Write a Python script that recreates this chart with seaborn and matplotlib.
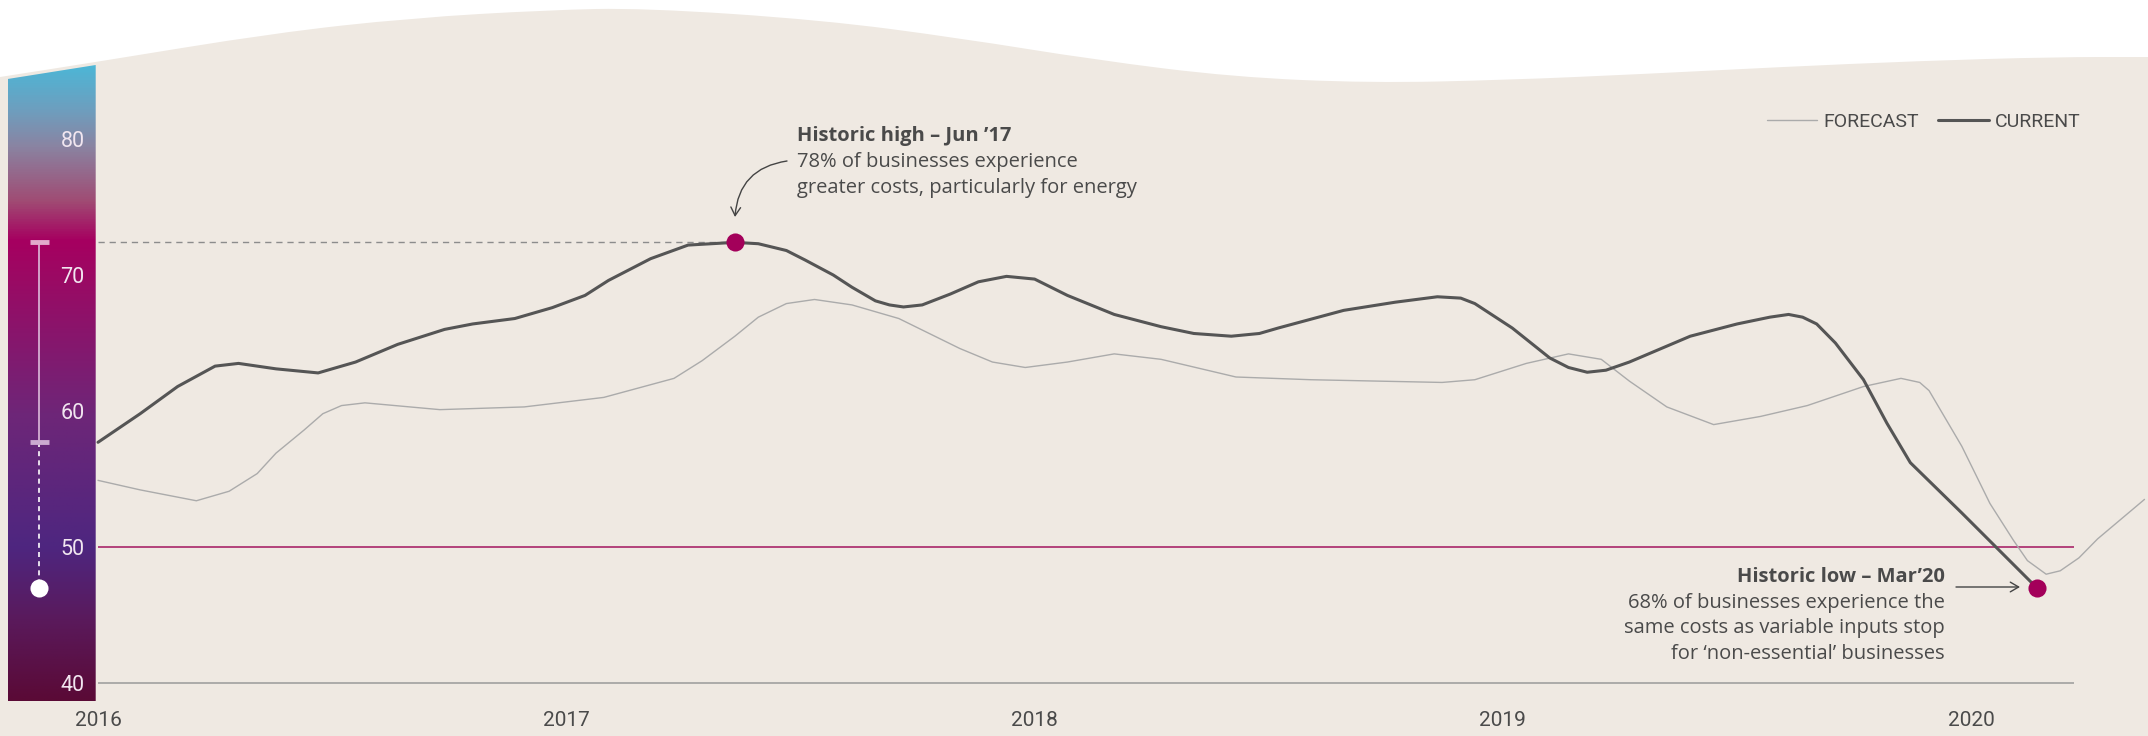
import matplotlib
matplotlib.use("Agg")
import numpy as np
import pandas as pd
import seaborn as sns
import matplotlib.pyplot as plt
from matplotlib import transforms as mtransforms
from matplotlib.path import Path
from matplotlib.patches import PathPatch, Polygon, FancyArrowPatch
from matplotlib.colors import LinearSegmentedColormap
from matplotlib.lines import Line2D

# ---------------- data ----------------
current_x = [2016.00, 2016.09, 2016.17, 2016.25, 2016.30, 2016.38, 2016.47, 2016.55,
             2016.64, 2016.74, 2016.80, 2016.89, 2016.97, 2017.04, 2017.09, 2017.18,
             2017.26, 2017.31, 2017.36, 2017.41, 2017.47, 2017.51, 2017.57, 2017.61,
             2017.66, 2017.69, 2017.72, 2017.76, 2017.82, 2017.88, 2017.94, 2018.00,
             2018.07, 2018.17, 2018.27, 2018.34, 2018.42, 2018.48, 2018.52, 2018.66,
             2018.77, 2018.86, 2018.91, 2018.94, 2019.02, 2019.10, 2019.14, 2019.18,
             2019.22, 2019.27, 2019.40, 2019.50, 2019.57, 2019.61, 2019.64, 2019.67,
             2019.71, 2019.77, 2019.82, 2019.87, 2019.98, 2020.14]
current_y = [57.7, 59.8, 61.8, 63.3, 63.5, 63.1, 62.8, 63.6,
             64.9, 66.0, 66.4, 66.8, 67.6, 68.5, 69.6, 71.2,
             72.2, 72.3, 72.4, 72.3, 71.8, 71.1, 70.0, 69.1,
             68.1, 67.8, 67.65, 67.8, 68.6, 69.5, 69.9, 69.7,
             68.5, 67.1, 66.2, 65.7, 65.5, 65.7, 66.1, 67.4,
             68.0, 68.4, 68.3, 67.9, 66.1, 63.9, 63.2, 62.85,
             63.0, 63.6, 65.5, 66.4, 66.9, 67.1, 66.9, 66.4,
             65.0, 62.3, 59.1, 56.2, 52.5, 47.0]

forecast_x = [2016.00, 2016.09, 2016.21, 2016.28, 2016.34, 2016.38, 2016.44, 2016.48,
              2016.52, 2016.57, 2016.73, 2016.91, 2017.08, 2017.23, 2017.29, 2017.36,
              2017.41, 2017.47, 2017.53, 2017.61, 2017.71, 2017.84, 2017.91, 2017.98,
              2018.07, 2018.17, 2018.27, 2018.43, 2018.59, 2018.87, 2018.94, 2019.05,
              2019.14, 2019.21, 2019.27, 2019.35, 2019.45, 2019.55, 2019.65, 2019.77,
              2019.85, 2019.89, 2019.91, 2019.98, 2020.04, 2020.09, 2020.12, 2020.16,
              2020.19, 2020.23, 2020.27, 2020.37]
forecast_y = [54.9, 54.2, 53.4, 54.1, 55.4, 56.9, 58.6, 59.8,
              60.4, 60.6, 60.1, 60.3, 61.0, 62.4, 63.7, 65.5,
              66.9, 67.9, 68.2, 67.8, 66.8, 64.6, 63.6, 63.2,
              63.6, 64.2, 63.8, 62.5, 62.3, 62.1, 62.3, 63.5,
              64.2, 63.8, 62.2, 60.3, 59.0, 59.6, 60.4, 61.8,
              62.4, 62.1, 61.5, 57.4, 53.2, 50.5, 49.0, 48.0,
              48.25, 49.2, 50.6, 53.5]

year_ticks = [2016, 2017, 2018, 2019, 2020]
year_labels = ["2016", "2017", "2018", "2019", "2020"]
value_ticks = [40, 50, 60, 70, 80]
value_labels = ["40", "50", "60", "70", "80"]

threshold = 50
floor_value = 40
line_end_x = 2020.22
high_x, high_y = 2017.36, 72.4
low_x, low_y = 2020.14, 47.0

series_names = ["FORECAST", "CURRENT"]
high_title = "Historic high \u2013 Jun \u201917"
high_lines = ["78% of businesses experience",
              "greater costs, particularly for energy"]
low_title = "Historic low \u2013 Mar\u201920"
low_lines = ["68% of businesses experience the",
             "same costs as variable inputs stop",
             "for \u2018non-essential\u2019 businesses"]

# ---------------- style ----------------
sns.set_theme(style="white")
plt.rcParams["font.family"] = ["Roboto", "DejaVu Sans"]
ANN_FONT = ["Open Sans", "DejaVu Sans"]

W, H = 2148, 736
BEIGE = "#EFE9E2"
DARK = "#555555"
LIGHT = "#ABABAB"
TEXT = "#4A4A4A"
MAGENTA = "#A3005A"

fig = plt.figure(figsize=(W / 100, H / 100), dpi=100, facecolor="white")
pix = mtransforms.Affine2D().scale(1 / W, -1 / H).translate(0, 1) + fig.transFigure

# beige wavy background (decoration)
bpts = np.array([(0, 77), (96, 62), (274, 33), (411, 18), (548, 10), (644, 8),
                 (822, 20), (959, 38), (1096, 60), (1233, 77), (1370, 83),
                 (1507, 80), (1644, 74), (1781, 67), (1918, 61), (2055, 57), (2148, 57)],
                dtype=float)
verts = [tuple(bpts[0]), tuple((bpts[0] + bpts[1]) / 2)]
codes = [Path.MOVETO, Path.LINETO]
for i in range(1, len(bpts) - 1):
    verts += [tuple(bpts[i]), tuple((bpts[i] + bpts[i + 1]) / 2)]
    codes += [Path.CURVE3, Path.CURVE3]
verts += [tuple(bpts[-1]), (W, H), (0, H), (0, 77)]
codes += [Path.LINETO, Path.LINETO, Path.LINETO, Path.CLOSEPOLY]
fig.patches.append(PathPatch(Path(verts, codes), transform=pix, facecolor=BEIGE,
                             edgecolor="none", zorder=0))

# gradient bar (decoration)
bar_ax = fig.add_axes([7.7 / W, 1 - 701 / H, 88 / W, (701 - 65) / H], zorder=1)
stops = [(0.0, "#5A0A36"), (0.127, "#5A1A5C"), (0.242, "#4E2680"), (0.451, "#6E2678"),
         (0.662, "#9A0A64"), (0.725, "#A60060"), (0.788, "#A04C74"), (0.874, "#8A84A2"),
         (0.93, "#6E9EBE"), (1.0, "#4DB6D6")]
cmap = LinearSegmentedColormap.from_list("bar", stops)
grad = np.linspace(1, 0, 512).reshape(-1, 1)
im = bar_ax.imshow(grad, aspect="auto", cmap=cmap, extent=[0, 1, 0, 1], origin="upper")
clip = Polygon([(0, 0), (1, 0), (1, 1), (0, 0.978)], closed=True, transform=bar_ax.transAxes)
im.set_clip_path(clip)
bar_ax.set_xlim(0, 1)
bar_ax.set_ylim(0, 1)
bar_ax.axis("off")

# main axes
ax = fig.add_axes([0, 0, 1, 1], zorder=2)
ax.set_facecolor("none")
for s in ax.spines.values():
    s.set_visible(False)

cur_df = pd.DataFrame({"date": current_x, "value": current_y})
fc_df = pd.DataFrame({"date": forecast_x, "value": forecast_y})

sns.lineplot(data=fc_df, x="date", y="value", ax=ax, color=LIGHT, lw=1.0,
             sort=False, estimator=None, zorder=3)
sns.lineplot(data=cur_df, x="date", y="value", ax=ax, color=DARK, lw=2.2,
             sort=False, estimator=None, zorder=4)
for ln in ax.lines:
    ln.set_solid_joinstyle("round")

ax.hlines(threshold, year_ticks[0], line_end_x, color="#A3155F", lw=1.1, zorder=2)
ax.hlines(floor_value, year_ticks[0], line_end_x, color="#9A9A9A", lw=1.1, zorder=2)
ax.hlines(high_y, year_ticks[0], high_x, color="#8C8C8C", lw=1.0,
          linestyles=(0, (4.5, 3.5)), zorder=2)

ax.scatter([high_x, low_x], [high_y, low_y], s=170, color=MAGENTA, zorder=6,
           linewidths=0)

ax.set_xlim(2015.7907, 2020.3775)
ax.set_ylim(36.103, 90.221)
ax.set_xticks(year_ticks)
ax.set_xticklabels(year_labels)
ax.set_yticks(value_ticks)
ax.set_yticklabels(value_labels)
ax.tick_params(axis="x", length=0, pad=-18, labelsize=15, labelcolor=TEXT)
ax.tick_params(axis="y", length=0, pad=-61, labelsize=15.5, labelcolor="#F1E6F0")
for lab in ax.get_yticklabels():
    lab.set_horizontalalignment("right")
ax.set_xlabel("")
ax.set_ylabel("")
ax.grid(False)

# slider on the gradient bar
blend = mtransforms.blended_transform_factory(pix, ax.transData)
ax.plot([39, 39], [high_y, current_y[0]], transform=blend, color="#DDBCDB", lw=1.2,
        zorder=5)
ax.plot([39, 39], [current_y[0], low_y], transform=blend, color="white", lw=1.2,
        dashes=(3, 2.5), zorder=5)
ax.plot([30, 49], [high_y, high_y], transform=blend, color="#E2AACB", lw=3.5,
        solid_capstyle="butt", zorder=6)
ax.plot([30, 49], [current_y[0], current_y[0]], transform=blend, color="#CBAAD0", lw=3.5,
        solid_capstyle="butt", zorder=6)
ax.plot([39], [low_y], "o", transform=blend, color="white", ms=13, mec="none", zorder=6)

# legend
handles = [Line2D([], [], color=LIGHT, lw=1.0), Line2D([], [], color=DARK, lw=2.2)]
leg = ax.legend(handles, series_names, loc="upper right",
                bbox_to_anchor=(2080 / W, 1 - 113 / H), bbox_transform=fig.transFigure,
                ncol=2, frameon=False, handlelength=2.6, handletextpad=0.3,
                columnspacing=1.0, fontsize=14, borderaxespad=0, borderpad=0)
for t in leg.get_texts():
    t.set_color(TEXT)

# annotations
ax.text(797, 136, high_title, transform=pix, fontsize=14.5, fontweight="bold",
        family=ANN_FONT, color=TEXT, ha="left", va="center", zorder=7)
for i, line in enumerate(high_lines):
    ax.text(797, 162 + 26.5 * i, line, transform=pix, fontsize=14.5, family=ANN_FONT,
            color=TEXT, ha="left", va="center", zorder=7)
ax.text(1945, 577, low_title, transform=pix, fontsize=14.5, fontweight="bold",
        family=ANN_FONT, color=TEXT, ha="right", va="center", zorder=7)
for i, line in enumerate(low_lines):
    ax.text(1945, 603 + 25.3 * i, line, transform=pix, fontsize=14.5, family=ANN_FONT,
            color=TEXT, ha="right", va="center", zorder=7)

arr1 = FancyArrowPatch(posA=(787, 161), posB=(735, 217), transform=pix,
                       arrowstyle="->,head_length=6,head_width=3.5",
                       connectionstyle="arc3,rad=0.4", color="#444444", lw=1.0,
                       shrinkA=0, shrinkB=0, zorder=7)
ax.add_patch(arr1)
arr2 = FancyArrowPatch(posA=(1956, 587), posB=(2020, 587), transform=pix,
                       arrowstyle="->,head_length=6,head_width=3.5",
                       color="#444444", lw=1.0, shrinkA=0, shrinkB=0, zorder=7)
ax.add_patch(arr2)

fig.savefig("out.png", dpi=100, facecolor="white")
